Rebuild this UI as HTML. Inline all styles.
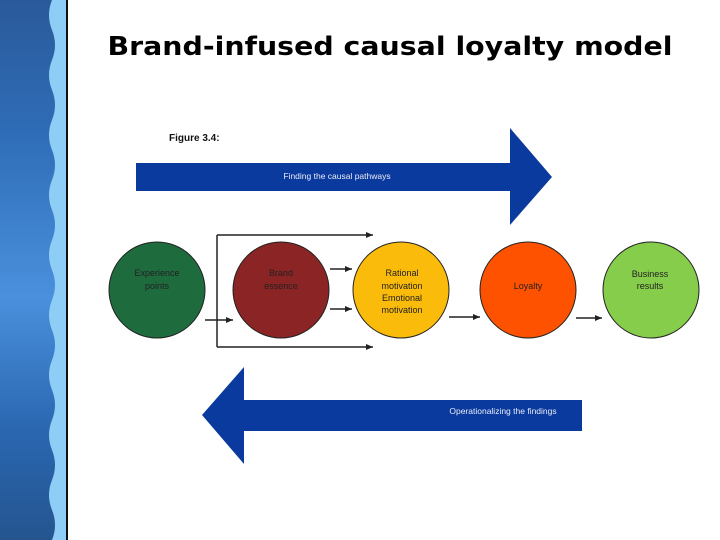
<!DOCTYPE html>
<html><head><meta charset="utf-8"><style>
html,body{margin:0;padding:0;width:720px;height:540px;overflow:hidden;background:#fff}
</style></head><body>
<svg width="720" height="540" viewBox="0 0 720 540" xmlns="http://www.w3.org/2000/svg" font-family="Liberation Sans, sans-serif">
<defs>
<linearGradient id="bg" x1="0" y1="0" x2="0" y2="1">
<stop offset="0" stop-color="#2a5a9a"/><stop offset="0.25" stop-color="#2f6db8"/><stop offset="0.55" stop-color="#4a90dc"/><stop offset="0.8" stop-color="#2a66b0"/><stop offset="1" stop-color="#24558f"/>
</linearGradient>
<marker id="ah" markerWidth="8" markerHeight="8" refX="7" refY="4" orient="auto" markerUnits="userSpaceOnUse"><path d="M0,1 L7,4 L0,7 Z" fill="#222"/></marker>
</defs>
<rect x="0" y="0" width="66" height="540" fill="#8ecdf6"/>
<path d="M0,0 H52 Q46,15 52,30 Q58,45 52,60 Q46,75 52,90 Q58,105 52,120 Q46,135 52,150 Q58,165 52,180 Q46,195 52,210 Q58,225 52,240 Q46,255 52,270 Q58,285 52,300 Q46,315 52,330 Q58,345 52,360 Q46,375 52,390 Q58,405 52,420 Q46,435 52,450 Q58,465 52,480 Q46,495 52,510 Q58,525 52,540 H0 Z" fill="url(#bg)"/>
<rect x="66" y="0" width="2" height="540" fill="#111"/>
<text x="390" y="55" text-anchor="middle" font-family="DejaVu Sans, sans-serif" font-weight="bold" font-size="26" textLength="565" lengthAdjust="spacingAndGlyphs" fill="#000">Brand-infused causal loyalty model</text>
<text x="169" y="141" font-size="10" font-weight="bold" fill="#111">Figure 3.4:</text>
<path d="M136,163 H510 V128 L552,177 L510,225 V191 H136 Z" fill="#0b3a9e"/>
<text x="337" y="179" text-anchor="middle" font-size="8.5" fill="#e8ecf8">Finding the causal pathways</text>
<path d="M582,400 H244 V367 L202,415 L244,464 V431 H582 Z" fill="#0b3a9e"/>
<text x="503" y="414" text-anchor="middle" font-size="8.5" fill="#e8ecf8">Operationalizing the findings</text>
<g stroke="#222" stroke-width="1">
<circle cx="157" cy="290" r="48" fill="#1e6b3e"/>
<circle cx="281" cy="290" r="48" fill="#8b2424"/>
<circle cx="401" cy="290" r="48" fill="#fbbb0a"/>
<circle cx="528" cy="290" r="48" fill="#ff5200"/>
<circle cx="651" cy="290" r="48" fill="#86cd4c"/>
</g>
<g stroke="#222" stroke-width="1.5" fill="none">
<path d="M217,235 V347"/>
<path d="M217,235 H373" marker-end="url(#ah)"/>
<path d="M217,347 H373" marker-end="url(#ah)"/>
<path d="M205,320 H233" marker-end="url(#ah)"/>
<path d="M330,269 H352" marker-end="url(#ah)"/>
<path d="M330,309 H352" marker-end="url(#ah)"/>
<path d="M449,317 H480" marker-end="url(#ah)"/>
<path d="M576,318 H602" marker-end="url(#ah)"/>
</g>
<g font-size="9" fill="#222" text-anchor="middle">
<text x="157" y="276">Experience</text><text x="157" y="289">points</text>
<text x="281" y="276">Brand</text><text x="281" y="289">essence</text>
<text x="402" y="276">Rational</text><text x="402" y="289">motivation</text><text x="402" y="301">Emotional</text><text x="402" y="313">motivation</text>
<text x="528" y="289">Loyalty</text>
<text x="650" y="277">Business</text><text x="650" y="289">results</text>
</g>
</svg>
</body></html>
